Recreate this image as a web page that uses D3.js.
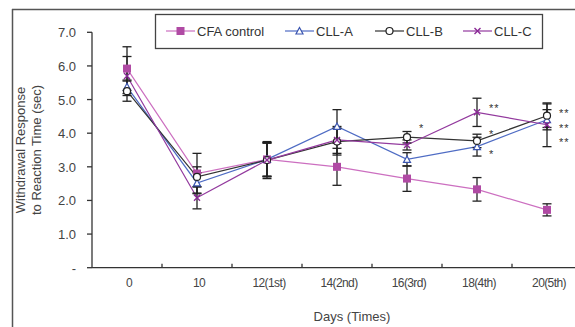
<!DOCTYPE html>
<html>
<head>
<meta charset="utf-8">
<script src="https://cdn.jsdelivr.net/npm/d3@7"></script>
<style>
  body { margin: 0; background: #fff; }
  svg { display: block; font-family: "Liberation Sans", Arial, sans-serif; }
</style>
</head>
<body>
<svg width="575" height="327"></svg>
<script>
var days = ["0", "10", "12(1st)", "14(2nd)", "16(3rd)", "18(4th)", "20(5th)"];
var yTicks = [0, 1, 2, 3, 4, 5, 6, 7];

var cfa    = [5.92, 2.8, 3.22, 3.0, 2.65, 2.33, 1.72];
var cfaErr = [0.65, 0.6, 0.5, 0.55, 0.38, 0.35, 0.18];
var cllA    = [5.38, 2.52, 3.22, 4.2, 3.22, 3.6, 4.4];
var cllAErr = [0.2, 0.3, 0.5, 0.5, 0.2, 0.28, 0.3];
var cllB    = [5.25, 2.7, 3.2, 3.75, 3.88, 3.77, 4.52];
var cllBErr = [0.3, 0.3, 0.5, 0.4, 0.17, 0.2, 0.35];
var cllC    = [5.7, 2.08, 3.2, 3.8, 3.65, 4.62, 4.25];
var cllCErr = [0.58, 0.33, 0.55, 0.4, 0.15, 0.42, 0.65];

// significance marks: [day index, value, text]
var stars = [
  [4, 4.2, "*"],
  [5, 4.82, "**"], [5, 4.05, "*"], [5, 3.45, "*"],
  [6, 4.65, "**"], [6, 4.2, "**"], [6, 3.8, "**"]
];

var series = [
  { name: "CFA control", values: cfa, err: cfaErr, line: "#cc6fc0", mark: "#b04aa4", sym: "square" },
  { name: "CLL-A", values: cllA, err: cllAErr, line: "#4f6cc4", mark: "#3a55b0", sym: "triangle" },
  { name: "CLL-B", values: cllB, err: cllBErr, line: "#333333", mark: "#222222", sym: "circle" },
  { name: "CLL-C", values: cllC, err: cllCErr, line: "#933a9e", mark: "#8a2a96", sym: "x" }
];

var svg = d3.select("svg");

// outer frame
svg.append("line").attr("x1", 12).attr("x2", 575).attr("y1", 9.5).attr("y2", 9.5)
  .attr("stroke", "#555").attr("stroke-width", 1.5);
svg.append("line").attr("x1", 12.5).attr("x2", 12.5).attr("y1", 9).attr("y2", 327)
  .attr("stroke", "#555").attr("stroke-width", 1.5);

var x0 = 92, yBase = 267.7;
var x = d3.scaleBand().domain(days).range([x0, x0 + 7 * 70]);
var y = d3.scaleLinear().domain([0, 7]).range([yBase, 32.3]);
var cx = function (i) { return x(days[i]) + x.bandwidth() / 2; };

// y axis
svg.append("line").attr("x1", x0).attr("x2", x0).attr("y1", y(7)).attr("y2", yBase)
  .attr("stroke", "#333").attr("stroke-width", 1.3);
svg.selectAll(".ytick").data(yTicks).enter().append("line")
  .attr("x1", x0 - 5).attr("x2", x0).attr("y1", d => y(d)).attr("y2", d => y(d))
  .attr("stroke", "#333").attr("stroke-width", 1.3);
svg.selectAll(".ylab").data(yTicks).enter().append("text")
  .attr("x", 76).attr("y", d => y(d) + 5)
  .attr("text-anchor", "end").attr("font-size", 13).attr("fill", "#444")
  .text(d => d === 0 ? "-" : d.toFixed(1));

// x axis
svg.append("line").attr("x1", x0).attr("x2", 575).attr("y1", yBase).attr("y2", yBase)
  .attr("stroke", "#333").attr("stroke-width", 1.3);
svg.selectAll(".xtick").data(days.slice(1)).enter().append("line")
  .attr("x1", d => x(d)).attr("x2", d => x(d)).attr("y1", yBase - 4).attr("y2", yBase)
  .attr("stroke", "#333").attr("stroke-width", 1.3);
svg.selectAll(".xlab").data(days).enter().append("text")
  .attr("x", d => x(d) + x.bandwidth() / 2 + 2).attr("y", 287)
  .attr("text-anchor", "middle").attr("font-size", 12).attr("fill", "#444")
  .attr("letter-spacing", -0.6)
  .text(d => d);

svg.append("text").attr("x", 352).attr("y", 321).attr("text-anchor", "middle")
  .attr("font-size", 13).attr("fill", "#444").text("Days (Times)");

var yl = svg.append("text").attr("transform", "translate(27,150) rotate(-90)")
  .attr("text-anchor", "middle").attr("font-size", 13).attr("fill", "#444");
yl.append("tspan").attr("x", 0).attr("dy", -2).text("Withdrawal Response");
yl.append("tspan").attr("x", 0).attr("dy", 16).text("to Reaction Time (sec)");

// lines
var line = d3.line().x((d, i) => cx(i)).y(d => y(d));
series.forEach(function (s) {
  svg.append("path").datum(s.values).attr("d", line)
    .attr("fill", "none").attr("stroke", s.line).attr("stroke-width", 1.2);
});

// error bars
series.forEach(function (s) {
  s.values.forEach(function (v, i) {
    var g = svg.append("g").attr("stroke", "#222").attr("stroke-width", 1.3);
    var px = cx(i);
    g.append("line").attr("x1", px).attr("x2", px).attr("y1", y(v - s.err[i])).attr("y2", y(v + s.err[i]));
    [v - s.err[i], v + s.err[i]].forEach(function (e) {
      g.append("line").attr("x1", px - 4.5).attr("x2", px + 4.5).attr("y1", y(e)).attr("y2", y(e));
    });
  });
});

// markers
function marker(s, px, py) {
  var g = svg.append("g").attr("transform", "translate(" + px + "," + py + ")");
  if (s.sym === "square") {
    g.append("rect").attr("x", -4).attr("y", -4).attr("width", 8).attr("height", 8).attr("fill", s.mark);
  } else if (s.sym === "triangle") {
    g.append("path").attr("d", "M0,-3.5L3.5,3L-3.5,3Z").attr("fill", "#fff").attr("stroke", s.mark).attr("stroke-width", 1.2);
  } else if (s.sym === "circle") {
    g.append("circle").attr("r", 3.5).attr("fill", "#fff").attr("stroke", s.mark).attr("stroke-width", 1.2);
  } else {
    g.append("path").attr("d", "M-3,-3L3,3M-3,3L3,-3").attr("stroke", s.mark).attr("stroke-width", 1.4);
  }
}
series.forEach(function (s) {
  s.values.forEach(function (v, i) { marker(s, cx(i), y(v)); });
});

// significance stars
svg.selectAll(".star").data(stars).enter().append("text")
  .attr("x", d => cx(d[0]) + 12).attr("y", d => y(d[1]) + 6)
  .attr("font-size", 11).attr("fill", "#333").attr("letter-spacing", 1)
  .text(d => d[2]);

// legend
svg.append("rect").attr("x", 155.5).attr("y", 14.5).attr("width", 387).attr("height", 34)
  .attr("fill", "#fff").attr("stroke", "#444").attr("stroke-width", 1.3);
var legX = [166, 285, 375, 463];
series.forEach(function (s, i) {
  var lx = legX[i];
  svg.append("line").attr("x1", lx).attr("x2", lx + 29).attr("y1", 31).attr("y2", 31)
    .attr("stroke", s.line).attr("stroke-width", 1.2);
  marker(s, lx + 14.5, 31);
  svg.append("text").attr("x", lx + 31).attr("y", 36).attr("font-size", 13).attr("fill", "#333")
    .text(s.name);
});
</script>
</body>
</html>
